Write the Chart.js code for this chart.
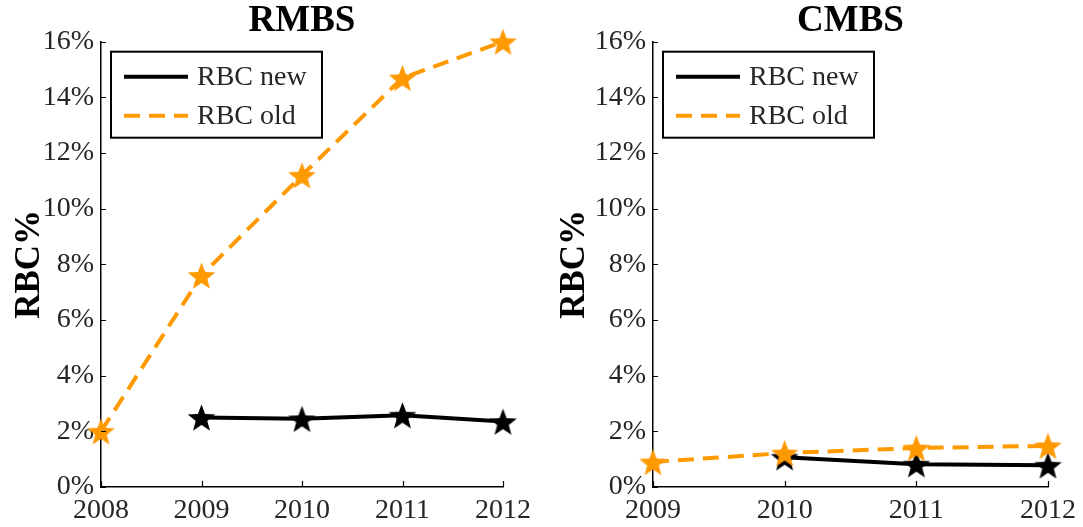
<!DOCTYPE html>
<html lang="en">
<head>
    <meta charset="UTF-8">
    <title>RBC% RMBS / CMBS</title>
    <script src="https://cdn.jsdelivr.net/npm/chart.js"></script>
    <style>
        body { margin: 0; padding: 0; background: #fff; }
        .panel { position: absolute; top: 0; height: 527px; }
        #left { left: 0; width: 541px; }
        #right { left: 541px; width: 542px; }
    </style>
</head>
<body>

<div class="panel" id="left"><canvas id="rmbsChart"></canvas></div>
<div class="panel" id="right"><canvas id="cmbsChart"></canvas></div>

<script>
    // data (values in %)
    const rmbsYears = ['2008', '2009', '2010', '2011', '2012'];
    const rmbsNew = [null, 2.5, 2.45, 2.58, 2.35];
    const rmbsOld = [2.0, 7.6, 11.2, 14.7, 16.0];

    const cmbsYears = ['2009', '2010', '2011', '2012'];
    const cmbsNew = [null, 1.07, 0.82, 0.78];
    const cmbsOld = [0.9, 1.22, 1.4, 1.48];

    const yTicks = [0, 2, 4, 6, 8, 10, 12, 14, 16];

    const ORANGE = '#ff9900';
    const serif = '"Liberation Serif", "DejaVu Serif", serif';

    // filled five-point star marker, like MATLAB's pentagram
    function makeStar(color, r) {
        const c = document.createElement('canvas');
        const size = Math.ceil(r * 2 + 2);
        c.width = size; c.height = size;
        const g = c.getContext('2d');
        const cx = size / 2, cy = size / 2 + 1.5;
        const inner = r * 0.42;
        g.beginPath();
        for (let i = 0; i < 10; i++) {
            const rad = i % 2 === 0 ? r : inner;
            const a = -Math.PI / 2 + i * Math.PI / 5;
            const px = cx + rad * Math.cos(a), py = cy + rad * Math.sin(a);
            if (i === 0) g.moveTo(px, py); else g.lineTo(px, py);
        }
        g.closePath();
        g.fillStyle = color;
        g.fill();
        return c;
    }
    const starBlack = makeStar('#000', 14.5);
    const starOrange = makeStar(ORANGE, 14.5);

    // inward ticks on both axes (MATLAB look)
    const inwardTicks = {
        id: 'inwardTicks',
        afterDatasetsDraw(chart) {
            const {ctx, chartArea: a, scales: {x, y}} = chart;
            ctx.save();
            ctx.strokeStyle = '#000';
            ctx.lineWidth = 1.2;
            ctx.beginPath();
            y.ticks.forEach(t => {
                const py = Math.round(y.getPixelForValue(t.value)) + 0.5;
                ctx.moveTo(a.left, py); ctx.lineTo(a.left + 5, py);
            });
            x.ticks.forEach((t, i) => {
                const px = Math.round(x.getPixelForTick(i)) + 0.5;
                ctx.moveTo(px, a.bottom); ctx.lineTo(px, a.bottom - 6);
            });
            ctx.stroke();
            ctx.restore();
        }
    };

    // boxed legend inside the upper left of the plot
    const boxLegend = {
        id: 'boxLegend',
        afterDraw(chart) {
            const {ctx, chartArea: a} = chart;
            const bx = a.left + 10, by = a.top + 10, bw = 211, bh = 86;
            ctx.save();
            ctx.fillStyle = '#fff';
            ctx.fillRect(bx, by, bw, bh);
            ctx.strokeStyle = '#000';
            ctx.lineWidth = 2;
            ctx.strokeRect(bx, by, bw, bh);
            const rows = [chart.data.datasets[0], chart.data.datasets[1]];
            rows.forEach((ds, i) => {
                const ly = by + 25 + i * 39;
                ctx.beginPath();
                ctx.setLineDash(ds.borderDash || []);
                ctx.lineWidth = 4;
                ctx.strokeStyle = ds.borderColor;
                ctx.moveTo(bx + 13, ly); ctx.lineTo(bx + 77, ly);
                ctx.stroke();
                ctx.setLineDash([]);
                ctx.fillStyle = '#262626';
                ctx.font = '28px ' + serif;
                ctx.textBaseline = 'middle';
                ctx.fillText(ds.label, bx + 86, ly + 1);
            });
            ctx.restore();
        }
    };

    function buildChart(canvasId, title, years, newVals, oldVals, yWidth, titlePad, padRight) {
        const ctx = document.getElementById(canvasId).getContext('2d');
        return new Chart(ctx, {
            type: 'line',
            data: {
                labels: years,
                datasets: [{
                    label: 'RBC new',
                    data: newVals,
                    borderColor: '#000',
                    borderWidth: 4,
                    pointStyle: starBlack,
                    order: 1,
                    clip: false
                }, {
                    label: 'RBC old',
                    data: oldVals,
                    borderColor: ORANGE,
                    borderWidth: 4,
                    borderDash: [16, 9],
                    pointStyle: starOrange,
                    order: 0,
                    clip: false
                }]
            },
            options: {
                responsive: true,
                maintainAspectRatio: false,
                animation: false,
                layout: { padding: { left: 0, right: padRight, top: 0, bottom: 0 } },
                elements: { line: { tension: 0 } },
                plugins: {
                    legend: { display: false },
                    tooltip: { enabled: false },
                    title: {
                        display: true,
                        text: title,
                        fullSize: false,
                        color: '#000',
                        font: { family: serif, size: 37, weight: 'bold', lineHeight: 1.1 },
                        padding: { top: 1, bottom: 0 }
                    }
                },
                scales: {
                    x: {
                        type: 'category',
                        offset: false,
                        grid: { display: true, drawOnChartArea: false, drawTicks: false },
                        border: { display: true, color: '#000', width: 1.5 },
                        ticks: { color: '#262626', font: { family: serif, size: 28 }, padding: 7, maxRotation: 0 },
                        afterFit(scale) { scale.height = 40; }
                    },
                    y: {
                        min: 0,
                        max: 16,
                        afterBuildTicks(scale) { scale.ticks = yTicks.map(v => ({ value: v })); },
                        grid: { display: true, drawOnChartArea: false, drawTicks: false },
                        border: { display: true, color: '#000', width: 1.5 },
                        ticks: {
                            color: '#262626',
                            font: { family: serif, size: 28 },
                            padding: 7,
                            callback: v => v + '%'
                        },
                        title: {
                            display: true,
                            text: 'RBC%',
                            color: '#000',
                            font: { family: serif, size: 35, weight: 'bold', lineHeight: 1.1 },
                            padding: { top: titlePad, bottom: 0 }
                        },
                        afterFit(scale) { scale.width = yWidth; }
                    }
                }
            },
            plugins: [inwardTicks, boxLegend]
        });
    }

    buildChart('rmbsChart', 'RMBS', rmbsYears, rmbsNew, rmbsOld, 101, 11, 38);
    buildChart('cmbsChart', 'CMBS', cmbsYears, cmbsNew, cmbsOld, 112, 15, 31);
</script>

</body>
</html>
